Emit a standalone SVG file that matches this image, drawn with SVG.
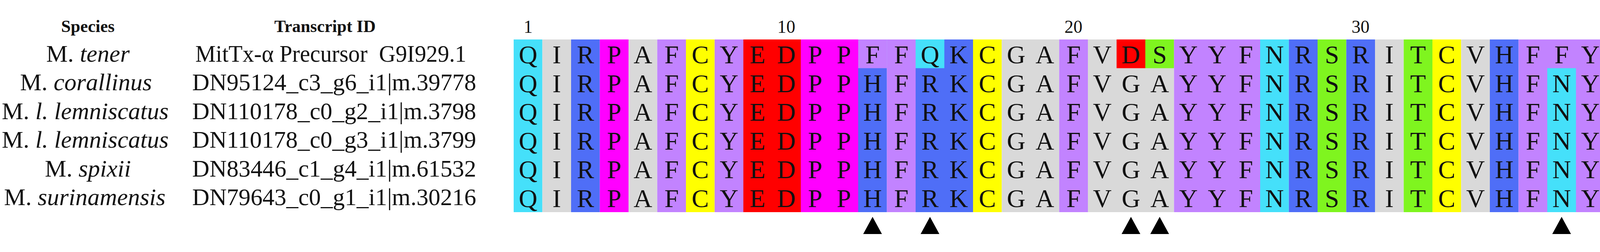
<svg xmlns="http://www.w3.org/2000/svg" width="5759" height="645" viewBox="0 0 5759 645">
<style>
.lbl{font-family:"Liberation Serif",serif;font-size:62px;fill:#111}
.hdr{font-family:"Liberation Serif",serif;font-size:44px;fill:#111;font-weight:bold;text-anchor:middle}
.num{font-family:"Liberation Serif",serif;font-size:46px;fill:#111;text-anchor:middle}
.aa{font-family:"Liberation Serif",serif;font-size:66px;fill:#111;text-anchor:middle}
.i{font-style:italic}
.C{fill:#45e0fa}.G{fill:#d9d9d9}.B{fill:#4f6ef7}.M{fill:#ff00ff}.P{fill:#c283ff}.Y{fill:#ffff00}.R{fill:#ff0000}.N{fill:#7ff51f}.O{fill:#ff6600}
</style>
<rect width="5759" height="645" fill="#fff"/>
<g id="headers">
<text class="hdr" x="225" y="82">Species</text>
<text class="hdr" x="832" y="82">Transcript ID</text>
</g>
<g id="species" class="lbl" text-anchor="middle">
<text x="225" y="158">M. <tspan class="i">tener</tspan></text>
<text x="220" y="231">M. <tspan class="i">corallinus</tspan></text>
<text x="218" y="305">M. <tspan class="i">l. lemniscatus</tspan></text>
<text x="218" y="378">M. <tspan class="i">l. lemniscatus</tspan></text>
<text x="225" y="452">M. <tspan class="i">spixii</tspan></text>
<text x="217" y="525">M. <tspan class="i">surinamensis</tspan></text>
</g>
<g id="transcripts" class="lbl">
<text x="500" y="158" textLength="694" lengthAdjust="spacingAndGlyphs">MitTx-α Precursor&#160;&#160;G9I929.1</text>
<text x="492" y="231" textLength="727" lengthAdjust="spacingAndGlyphs">DN95124_c3_g6_i1|m.39778</text>
<text x="492" y="305" textLength="727" lengthAdjust="spacingAndGlyphs">DN110178_c0_g2_i1|m.3798</text>
<text x="492" y="378" textLength="727" lengthAdjust="spacingAndGlyphs">DN110178_c0_g3_i1|m.3799</text>
<text x="492" y="452" textLength="727" lengthAdjust="spacingAndGlyphs">DN83446_c1_g4_i1|m.61532</text>
<text x="492" y="525" textLength="727" lengthAdjust="spacingAndGlyphs">DN79643_c0_g1_i1|m.30216</text>
</g>
<g id="numbers">
<text class="num" x="1352" y="84">1</text>
<text class="num" x="2013" y="84">10</text>
<text class="num" x="2748" y="84">20</text>
<text class="num" x="3483" y="84">30</text>
<text class="num" x="4218" y="84">40</text>
<text class="num" x="4953" y="84">50</text>
<text class="num" x="5688" y="84">60</text>
</g>
<g id="columns">
<rect class="C" x="1315" y="101" width="73.5" height="442"/>
<rect class="G" x="1388.5" y="101" width="73.5" height="442"/>
<rect class="B" x="1462" y="101" width="73.5" height="442"/>
<rect class="M" x="1535.5" y="101" width="73.5" height="442"/>
<rect class="G" x="1609" y="101" width="73.5" height="442"/>
<rect class="P" x="1682.5" y="101" width="73.5" height="442"/>
<rect class="Y" x="1756" y="101" width="73.5" height="442"/>
<rect class="P" x="1829.5" y="101" width="73.5" height="442"/>
<rect class="R" x="1903" y="101" width="147" height="442"/>
<rect class="M" x="2050" y="101" width="147" height="442"/>
<rect class="B" x="2197" y="101" width="73.5" height="442"/>
<rect class="P" x="2197" y="101" width="73.5" height="73.5"/>
<rect class="P" x="2270.5" y="101" width="73.5" height="442"/>
<rect class="B" x="2344" y="101" width="147" height="442"/>
<rect class="C" x="2344" y="101" width="73.5" height="73.5"/>
<rect class="Y" x="2491" y="101" width="73.5" height="442"/>
<rect class="G" x="2564.5" y="101" width="147" height="442"/>
<rect class="P" x="2711.5" y="101" width="73.5" height="442"/>
<rect class="G" x="2785" y="101" width="220.5" height="442"/>
<rect class="R" x="2858.5" y="101" width="73.5" height="73.5"/>
<rect class="N" x="2932" y="101" width="73.5" height="73.5"/>
<rect class="P" x="3005.5" y="101" width="220.5" height="442"/>
<rect class="C" x="3226" y="101" width="73.5" height="442"/>
<rect class="B" x="3299.5" y="101" width="73.5" height="442"/>
<rect class="N" x="3373" y="101" width="73.5" height="442"/>
<rect class="B" x="3446.5" y="101" width="73.5" height="442"/>
<rect class="G" x="3520" y="101" width="73.5" height="442"/>
<rect class="N" x="3593.5" y="101" width="73.5" height="442"/>
<rect class="Y" x="3667" y="101" width="73.5" height="442"/>
<rect class="G" x="3740.5" y="101" width="73.5" height="442"/>
<rect class="B" x="3814" y="101" width="73.5" height="442"/>
<rect class="P" x="3887.5" y="101" width="220.5" height="442"/>
<rect class="C" x="3961" y="174.5" width="73.5" height="368.5"/>
<rect class="G" x="4108" y="101" width="73.5" height="442"/>
<rect class="C" x="4181.5" y="101" width="73.5" height="442"/>
<rect class="Y" x="4255" y="101" width="73.5" height="442"/>
<rect class="R" x="4328.5" y="101" width="73.5" height="442"/>
<rect class="G" x="4402" y="101" width="73.5" height="442"/>
<rect class="C" x="4475.5" y="101" width="220.5" height="442"/>
<rect class="B" x="4696" y="101" width="73.5" height="442"/>
<rect class="P" x="4769.5" y="101" width="73.5" height="442"/>
<rect class="N" x="4843" y="101" width="147" height="442"/>
<rect class="O" x="4990" y="101" width="73.5" height="442"/>
<rect class="N" x="5063.5" y="101" width="73.5" height="442"/>
<rect class="R" x="5137" y="101" width="73.5" height="442"/>
<rect class="Y" x="5210.5" y="101" width="73.5" height="442"/>
<rect class="C" x="5284" y="101" width="73.5" height="442"/>
<rect class="B" x="5357.5" y="101" width="73.5" height="442"/>
<rect class="G" x="5431" y="101" width="73.5" height="442"/>
<rect class="Y" x="5504.5" y="101" width="73.5" height="442"/>
<rect class="B" x="5578" y="101" width="73.5" height="442"/>
<rect class="G" x="5651.5" y="101" width="73.5" height="442"/>
</g>
<g id="residues" class="aa">
<text y="162"><tspan x="1351.75 1425.25 1498.75 1572.25 1645.75 1719.25 1792.75 1866.25 1939.75 2013.25 2086.75 2160.25 2233.75 2307.25 2380.75 2454.25 2527.75 2601.25 2674.75 2748.25 2821.75 2895.25 2968.75 3042.25 3115.75 3189.25 3262.75 3336.25 3409.75 3483.25 3556.75 3630.25 3703.75 3777.25 3850.75 3924.25 3997.75 4071.25 4144.75 4218.25 4291.75 4365.25 4438.75 4512.25 4585.75 4659.25 4732.75 4806.25 4879.75 4953.25 5026.75 5100.25 5173.75 5247.25 5320.75 5394.25 5467.75 5541.25 5614.75 5688.25">QIRPAFCYEDPPFFQKCGAFVDSYYFNRSRITCVHFFYGQCDVNQNHFTTMSECNRVCHG</tspan></text>
<text y="235.5"><tspan x="1351.75 1425.25 1498.75 1572.25 1645.75 1719.25 1792.75 1866.25 1939.75 2013.25 2086.75 2160.25 2233.75 2307.25 2380.75 2454.25 2527.75 2601.25 2674.75 2748.25 2821.75 2895.25 2968.75 3042.25 3115.75 3189.25 3262.75 3336.25 3409.75 3483.25 3556.75 3630.25 3703.75 3777.25 3850.75 3924.25 3997.75 4071.25 4144.75 4218.25 4291.75 4365.25 4438.75 4512.25 4585.75 4659.25 4732.75 4806.25 4879.75 4953.25 5026.75 5100.25 5173.75 5247.25 5320.75 5394.25 5467.75 5541.25 5614.75 5688.25">QIRPAFCYEDPPHFRKCGAFVGAYYFNRSRITCVHFNYGQCDVNQNHFTTMSECNRVCHG</tspan></text>
<text y="309"><tspan x="1351.75 1425.25 1498.75 1572.25 1645.75 1719.25 1792.75 1866.25 1939.75 2013.25 2086.75 2160.25 2233.75 2307.25 2380.75 2454.25 2527.75 2601.25 2674.75 2748.25 2821.75 2895.25 2968.75 3042.25 3115.75 3189.25 3262.75 3336.25 3409.75 3483.25 3556.75 3630.25 3703.75 3777.25 3850.75 3924.25 3997.75 4071.25 4144.75 4218.25 4291.75 4365.25 4438.75 4512.25 4585.75 4659.25 4732.75 4806.25 4879.75 4953.25 5026.75 5100.25 5173.75 5247.25 5320.75 5394.25 5467.75 5541.25 5614.75 5688.25">QIRPAFCYEDPPHFRKCGAFVGAYYFNRSRITCVHFNYGQCDVNQNHFTTMSECNRVCHG</tspan></text>
<text y="382.5"><tspan x="1351.75 1425.25 1498.75 1572.25 1645.75 1719.25 1792.75 1866.25 1939.75 2013.25 2086.75 2160.25 2233.75 2307.25 2380.75 2454.25 2527.75 2601.25 2674.75 2748.25 2821.75 2895.25 2968.75 3042.25 3115.75 3189.25 3262.75 3336.25 3409.75 3483.25 3556.75 3630.25 3703.75 3777.25 3850.75 3924.25 3997.75 4071.25 4144.75 4218.25 4291.75 4365.25 4438.75 4512.25 4585.75 4659.25 4732.75 4806.25 4879.75 4953.25 5026.75 5100.25 5173.75 5247.25 5320.75 5394.25 5467.75 5541.25 5614.75 5688.25">QIRPAFCYEDPPHFRKCGAFVGAYYFNRSRITCVHFNYGQCDVNQNHFTTMSECNRVCHG</tspan></text>
<text y="456"><tspan x="1351.75 1425.25 1498.75 1572.25 1645.75 1719.25 1792.75 1866.25 1939.75 2013.25 2086.75 2160.25 2233.75 2307.25 2380.75 2454.25 2527.75 2601.25 2674.75 2748.25 2821.75 2895.25 2968.75 3042.25 3115.75 3189.25 3262.75 3336.25 3409.75 3483.25 3556.75 3630.25 3703.75 3777.25 3850.75 3924.25 3997.75 4071.25 4144.75 4218.25 4291.75 4365.25 4438.75 4512.25 4585.75 4659.25 4732.75 4806.25 4879.75 4953.25 5026.75 5100.25 5173.75 5247.25 5320.75 5394.25 5467.75 5541.25 5614.75 5688.25">QIRPAFCYEDPPHFRKCGAFVGAYYFNRSRITCVHFNYGQCDVNQNHFTTMSECNRVCHG</tspan></text>
<text y="529.5"><tspan x="1351.75 1425.25 1498.75 1572.25 1645.75 1719.25 1792.75 1866.25 1939.75 2013.25 2086.75 2160.25 2233.75 2307.25 2380.75 2454.25 2527.75 2601.25 2674.75 2748.25 2821.75 2895.25 2968.75 3042.25 3115.75 3189.25 3262.75 3336.25 3409.75 3483.25 3556.75 3630.25 3703.75 3777.25 3850.75 3924.25 3997.75 4071.25 4144.75 4218.25 4291.75 4365.25 4438.75 4512.25 4585.75 4659.25 4732.75 4806.25 4879.75 4953.25 5026.75 5100.25 5173.75 5247.25 5320.75 5394.25 5467.75 5541.25 5614.75 5688.25">QIRPAFCYEDPPHFRKCGAFVGAYYFNRSRITCVHFNYGQCDVNQNHFTTMSECNRVCHG</tspan></text>
</g>
<g id="markers" fill="#000">
<path d="M2233.75 555 L2257.75 599 L2209.75 599 Z"/>
<path d="M2380.75 555 L2404.75 599 L2356.75 599 Z"/>
<path d="M2895.25 555 L2919.25 599 L2871.25 599 Z"/>
<path d="M2968.75 555 L2992.75 599 L2944.75 599 Z"/>
<path d="M3997.75 555 L4021.75 599 L3973.75 599 Z"/>
</g>
</svg>
